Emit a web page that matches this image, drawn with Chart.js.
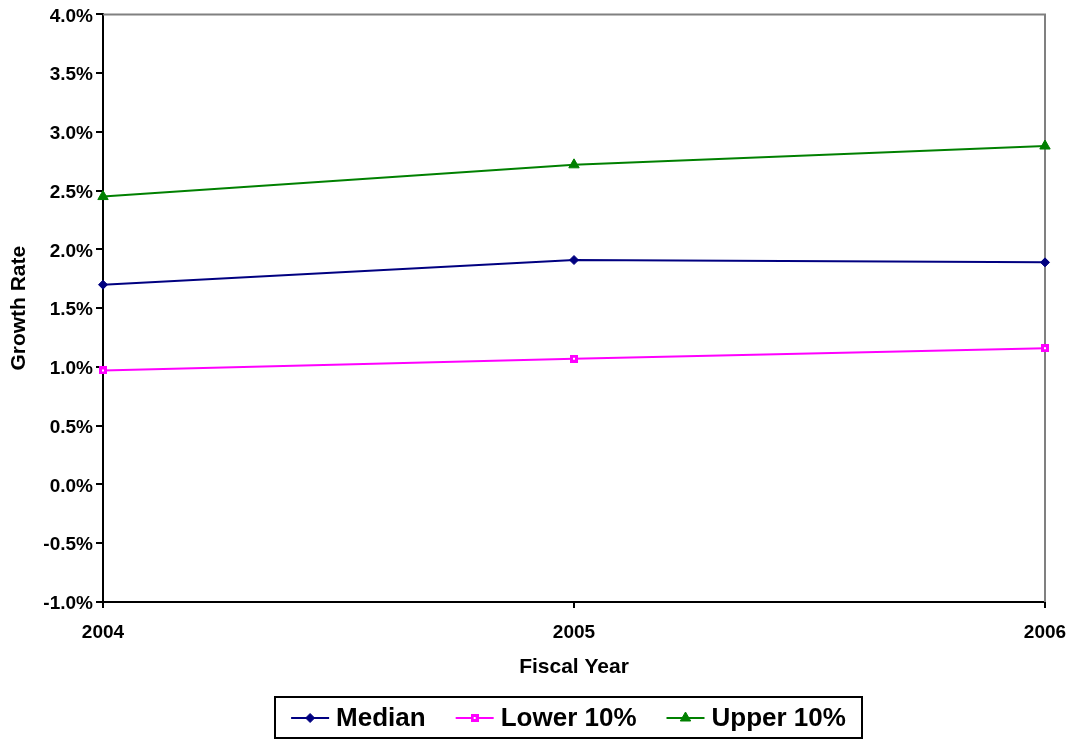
<!DOCTYPE html>
<html>
<head>
<meta charset="utf-8">
<script src="https://cdn.jsdelivr.net/npm/chart.js@4.4.0/dist/chart.umd.min.js"></script>
<style>
  html, body { margin: 0; padding: 0; background: #ffffff; }
  #wrap { position: relative; width: 1077px; height: 740px; }
</style>
</head>
<body>
<div id="wrap"><canvas id="c" width="1077" height="740"></canvas></div>
<script>
// ---- Data ----
const categories = ['2004', '2005', '2006'];
const medianValues = [1.70, 1.91, 1.89];
const lower10Values = [0.97, 1.07, 1.16];
const upper10Values = [2.45, 2.72, 2.88];
const seriesNames = ['Median', 'Lower 10%', 'Upper 10%'];
const yMin = -1.0, yMax = 4.0, yStep = 0.5;
const xTitle = 'Fiscal Year';
const yTitle = 'Growth Rate';

const FONT = '"Liberation Sans", Arial, sans-serif';

// Excel-style small magenta square marker with a tiny white centre
function squareMarker(color) {
  const c = document.createElement('canvas');
  c.width = 8; c.height = 8;
  const g = c.getContext('2d');
  g.fillStyle = color;
  g.fillRect(0, 0, 8, 8);
  g.fillStyle = '#ffffff';
  g.fillRect(3, 3, 2, 2);
  return c;
}
const lowerMarker = squareMarker('#FF00FF');

// gray frame on top and right of plot area
const framePlugin = {
  id: 'frame',
  beforeDatasetsDraw(chart) {
    const { ctx, chartArea: a } = chart;
    ctx.save();
    ctx.strokeStyle = '#808080';
    ctx.lineWidth = 2;
    ctx.beginPath();
    ctx.moveTo(a.left, a.top);
    ctx.lineTo(a.right, a.top);
    ctx.lineTo(a.right, a.bottom);
    ctx.stroke();
    ctx.restore();
  }
};

// Excel-like legend: line + marker + label, framed box
const legendPlugin = {
  id: 'boxLegend',
  afterDraw(chart) {
    const { ctx } = chart;
    const box = { left: 275, top: 697, right: 862, bottom: 738 };
    const cy = 718;
    ctx.save();
    ctx.lineWidth = 2;
    ctx.strokeStyle = '#000';
    ctx.strokeRect(box.left, box.top, box.right - box.left, box.bottom - box.top);
    ctx.font = 'bold 26px ' + FONT;
    ctx.textBaseline = 'middle';
    const lineLen = 38, gapAfterLine = 7, gapBetween = 30;
    const items = chart.data.datasets.map(ds => ({ ds, w: ctx.measureText(ds.label).width }));
    const total = items.reduce((s, it) => s + lineLen + gapAfterLine + it.w, 0) + gapBetween * (items.length - 1);
    let x = (box.left + box.right) / 2 - total / 2;
    items.forEach(({ ds, w }) => {
      ctx.strokeStyle = ds.borderColor;
      ctx.lineWidth = 2;
      ctx.beginPath();
      ctx.moveTo(x, cy);
      ctx.lineTo(x + lineLen, cy);
      ctx.stroke();
      ctx.fillStyle = ds.pointBackgroundColor;
      ctx.strokeStyle = ds.pointBorderColor;
      ctx.lineWidth = ds.pointBorderWidth;
      Chart.helpers.drawPoint(ctx, {
        pointStyle: ds.pointStyle,
        radius: ds.pointRadius,
        borderWidth: ds.pointBorderWidth,
        rotation: 0
      }, x + lineLen / 2, cy);
      ctx.fillStyle = '#000';
      ctx.fillText(ds.label, x + lineLen + gapAfterLine, cy + 1);
      x += lineLen + gapAfterLine + w + gapBetween;
    });
    ctx.restore();
  }
};

const mk = (label, data, color, style, radius, bw) => ({
  label, data,
  borderColor: color,
  backgroundColor: color,
  borderWidth: 2,
  pointStyle: style,
  pointRadius: radius,
  pointHoverRadius: radius,
  pointBackgroundColor: color,
  pointBorderColor: color,
  pointBorderWidth: bw,
  tension: 0,
  fill: false
});

new Chart(document.getElementById('c'), {
  type: 'line',
  data: {
    labels: categories,
    datasets: [
      mk(seriesNames[0], medianValues, '#000080', 'rectRot', 4.5, 1),
      mk(seriesNames[1], lower10Values, '#FF00FF', lowerMarker, 4.5, 1),
      mk(seriesNames[2], upper10Values, '#008000', 'triangle', 6, 1)
    ]
  },
  options: {
    responsive: false,
    animation: false,
    devicePixelRatio: 1,
    layout: { padding: { top: 14, right: 32, bottom: 60, left: 0 } },
    plugins: {
      legend: { display: false },
      tooltip: { enabled: false }
    },
    scales: {
      x: {
        type: 'category',
        offset: false,
        grid: { display: true, drawOnChartArea: false, drawTicks: true, tickLength: 6, color: '#000', lineWidth: 2 },
        border: { display: true, color: '#000', width: 2 },
        ticks: { color: '#000', font: { family: FONT, size: 19, weight: 'bold' }, padding: 13, maxRotation: 0, autoSkip: false },
        title: { display: true, text: xTitle, color: '#000', font: { family: FONT, size: 21, weight: 'bold' }, padding: { top: 8, bottom: 0 } },
        afterFit(scale) { scale.height = 78; scale.paddingRight = 0; scale.paddingLeft = 0; }
      },
      y: {
        min: yMin, max: yMax,
        grid: { display: true, drawOnChartArea: false, drawTicks: true, tickLength: 7, color: '#000', lineWidth: 2 },
        border: { display: true, color: '#000', width: 2 },
        ticks: {
          stepSize: yStep,
          color: '#000',
          font: { family: FONT, size: 19, weight: 'bold' },
          padding: 3,
          labelOffset: 2,
          callback: v => v.toFixed(1) + '%'
        },
        title: { display: true, text: yTitle, color: '#000', font: { family: FONT, size: 21, weight: 'bold' }, padding: { top: 7, bottom: 4 } },
        afterFit(scale) { scale.width = 103; }
      }
    }
  },
  plugins: [framePlugin, legendPlugin]
});
</script>
</body>
</html>
